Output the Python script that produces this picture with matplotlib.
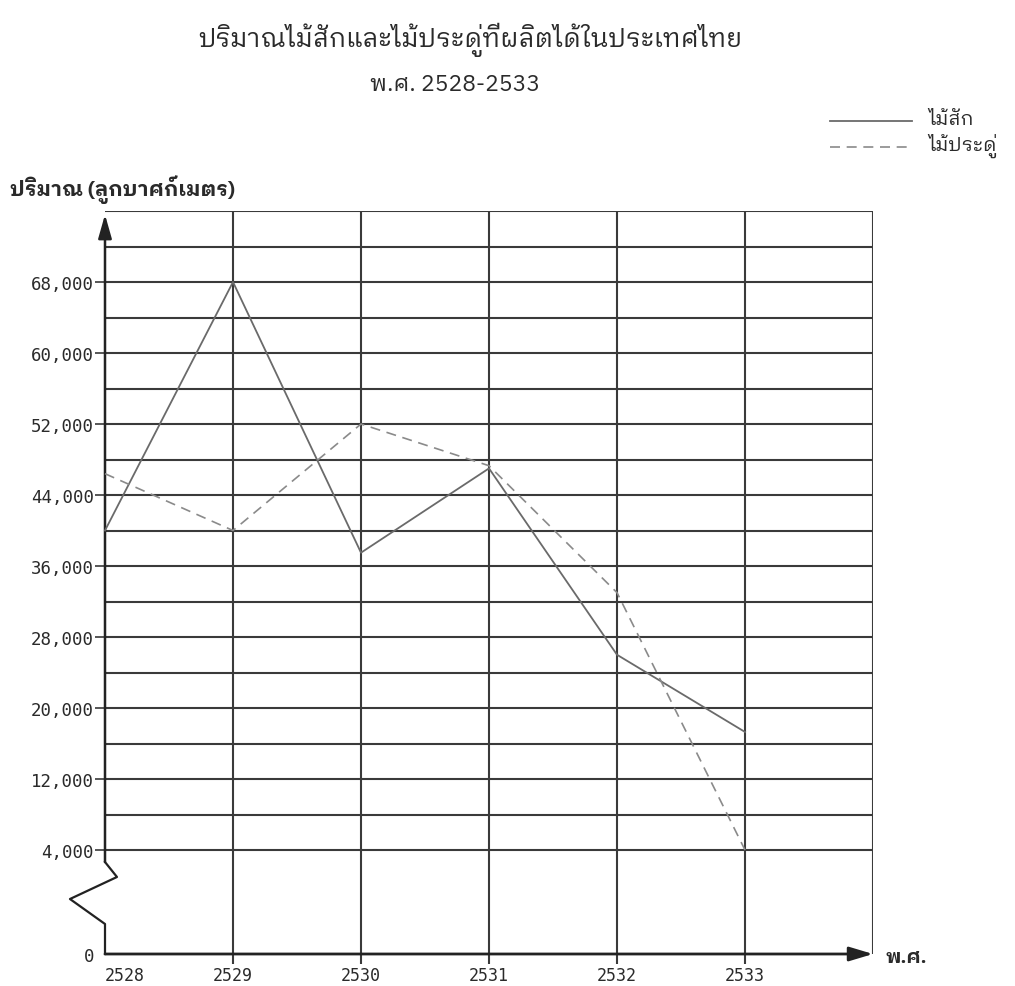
import numpy as np
import matplotlib
matplotlib.use("Agg")
import matplotlib.pyplot as plt
from matplotlib.lines import Line2D
from matplotlib.transforms import blended_transform_factory

# ---------------- data ----------------
years = [2528, 2529, 2530, 2531, 2532, 2533]
teak = [40000, 68000, 37500, 47000, 26000, 17300]        # ไม้สัก (solid)
pradu = [46400, 40000, 52000, 47300, 33000, 4000]        # ไม้ประดู่ (dashed)
ytick_values = [0, 4000, 12000, 20000, 28000, 36000, 44000, 52000, 60000, 68000]
ytick_labels = ["0", "4,000", "12,000", "20,000", "28,000", "36,000",
                "44,000", "52,000", "60,000", "68,000"]
grid_values = [4000, 8000, 12000, 16000, 20000, 24000, 28000, 32000, 36000,
               40000, 44000, 48000, 52000, 56000, 60000, 64000, 68000, 72000, 76000]
x_end = 2534
title = "ปริมาณไม้สักและไม้ประดู่ที่ผลิตได้ในประเทศไทย"
subtitle = "พ.ศ. 2528-2533"
ylabel = "ปริมาณ (ลูกบาศก์เมตร)"
xlabel = "พ.ศ."
series_names = ["ไม้สัก", "ไม้ประดู่"]

THAI = ["IBM Plex Sans Thai Looped", "DejaVu Sans"]
DIG = ["DejaVu Sans Mono"]

W, H = 1015, 987
fig = plt.figure(figsize=(W / 100, H / 100), dpi=100)
fig.patch.set_facecolor("white")

def fx(px):
    return px / W

def fy(py):
    return 1 - py / H

# axis with a broken (expanded) segment between 0 and 4,000
BREAK = 4000.0
K = 104 / 35.5

def fwd(v):
    v = np.asarray(v, dtype=float)
    return np.where(v < BREAK, v * K, BREAK * K + (v - BREAK))

def inv(u):
    u = np.asarray(u, dtype=float)
    return np.where(u < BREAK * K, u / K, u - BREAK * K + BREAK)

ax = fig.add_axes([fx(105), fy(955), fx(873) - fx(105), fy(212) - fy(955)])
ax.set_yscale("function", functions=(fwd, inv))
ax.set_xlim(years[0], x_end)
ax.set_ylim(0, grid_values[-1])
for s in ax.spines.values():
    s.set_visible(False)
ax.patch.set_visible(False)

GRID = "#3a3a3a"
GLW = 1.5
TXT = "#2a2a2a"

# grid
ax.hlines(grid_values, years[0], x_end, color=GRID, lw=GLW, zorder=1)
ax.vlines(years[1:] + [x_end], 0, grid_values[-1], color=GRID, lw=GLW, zorder=1)

# x axis with arrow
ax.annotate("", xy=(x_end, 0), xytext=(years[0], 0),
            arrowprops=dict(arrowstyle="-|>,head_length=1.2,head_width=0.36",
                            color="#222222", lw=2.0, mutation_scale=12,
                            shrinkA=0, shrinkB=0),
            annotation_clip=False, zorder=3)
# y axis with arrow (above the break)
ax.annotate("", xy=(years[0], grid_values[-1] - 400), xytext=(years[0], 3538),
            arrowprops=dict(arrowstyle="-|>,head_length=1.2,head_width=0.34",
                            color="#222222", lw=1.8, mutation_scale=12,
                            shrinkA=0, shrinkB=0),
            annotation_clip=False, zorder=3)
# break zigzag on the y axis
bt = blended_transform_factory(ax.transAxes, ax.transData)
ax.plot([0, 0.0156, -0.0456, 0, 0], [3538, 2962, 2115, 1154, 0],
        color="#222222", lw=1.6, transform=bt, clip_on=False, zorder=3)

# data lines
l1, = ax.plot(years, teak, color="#6a6a6a", lw=1.3, zorder=4, clip_on=False)
l2, = ax.plot(years, pradu, color="#8a8a8a", lw=1.2, dashes=(6, 4), zorder=4,
              clip_on=False)

# ticks
ax.set_xticks(years)
ax.set_xticklabels([str(y) for y in years], family=DIG, fontsize=12,
                   color=TXT)
ax.tick_params(axis="x", length=7, width=GLW, color=GRID, pad=2)
ax.xaxis.get_major_ticks()[0].tick1line.set_visible(False)
ax.get_xticklabels()[0].set_horizontalalignment("left")
ax.set_yticks(ytick_values)
ax.set_yticklabels(ytick_labels, family=DIG, fontsize=12.5, color=TXT)
ax.tick_params(axis="y", length=7, width=1.2, color=GRID, pad=1)
ax.yaxis.get_major_ticks()[0].tick1line.set_visible(False)
ax.minorticks_off()

# titles
fig.text(fx(470), fy(40), title, family=THAI, fontsize=18.5, color=TXT,
         ha="center", va="center")
fig.text(fx(455), fy(85), subtitle, family=THAI, fontsize=16.5, color=TXT,
         ha="center", va="center")
fig.text(fx(10), fy(190), ylabel, family=THAI, fontsize=15, fontweight="bold",
         color=TXT, ha="left", va="center")
fig.text(fx(886), fy(958), xlabel, family=THAI, fontsize=14, fontweight="bold",
         color=TXT, ha="left", va="center")

# legend
for (line, name, yy) in [(l1, series_names[0], 122), (l2, series_names[1], 148)]:
    fig.add_artist(Line2D([fx(830), fx(912)], [fy(yy), fy(yy)],
                          color=line.get_color(), lw=line.get_linewidth(),
                          linestyle=line.get_linestyle(),
                          dashes=(6, 4) if line is l2 else (None, None)))
    fig.text(fx(928), fy(yy - 2), name, family=THAI, fontsize=14,
             color=TXT, ha="left", va="center")

fig.savefig("out.png", dpi=100, facecolor="white")
